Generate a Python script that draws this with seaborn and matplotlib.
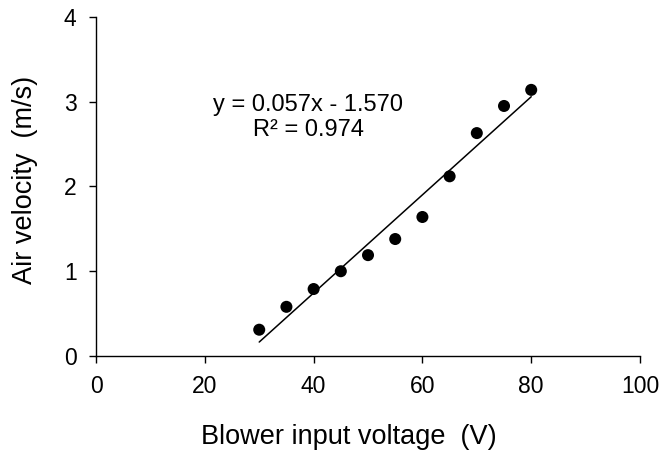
import numpy as np
import pandas as pd
import matplotlib
matplotlib.use("Agg")
import matplotlib.pyplot as plt
import seaborn as sns

# data
voltage = [30, 35, 40, 45, 50, 55, 60, 65, 70, 75, 80]
velocity = [0.31, 0.58, 0.79, 1.00, 1.19, 1.38, 1.64, 2.12, 2.63, 2.95, 3.14]
eq_text = "y = 0.057x - 1.570"
r2_text = "R² = 0.974"

df = pd.DataFrame({"voltage": voltage, "velocity": velocity})

sns.set_style("ticks")
plt.rcParams["font.family"] = ["Liberation Sans", "DejaVu Sans"]
plt.rcParams["text.color"] = "black"
plt.rcParams["axes.labelcolor"] = "black"
plt.rcParams["xtick.color"] = "black"
plt.rcParams["ytick.color"] = "black"

fig = plt.figure(figsize=(6.6, 4.54), dpi=100)
ax = fig.add_axes([0.1455, 0.2159, 0.8242, 0.7467])

sns.regplot(data=df, x="voltage", y="velocity", ax=ax, ci=None,
            scatter_kws={"s": 75, "color": "black", "edgecolor": "none", "alpha": 1},
            line_kws={"color": "black", "lw": 1.1})

ax.set_xlim(0, 100)
ax.set_ylim(0, 4)
ax.set_xticks(np.arange(0, 101, 20))
ax.set_yticks(np.arange(0, 5, 1))
ax.tick_params(axis="x", labelsize=16.5, length=5, width=1, direction="out", pad=9)
ax.tick_params(axis="y", labelsize=16.5, length=5, width=1, direction="out", pad=9)
for side in ["left", "bottom"]:
    ax.spines[side].set_color("black")
    ax.spines[side].set_linewidth(1)
sns.despine(ax=ax)

ax.set_xlabel("Blower input voltage  (V)", fontsize=19.5, va="center")
ax.set_ylabel("Air velocity  (m/s)", fontsize=19.5, va="center")
ax.xaxis.set_label_coords(0.465, -0.24)
ax.yaxis.set_label_coords(-0.13, 0.52)

ax.text(39, 2.96, eq_text, fontsize=17, ha="center", va="center")
ax.text(39, 2.665, r2_text, fontsize=17, ha="center", va="center")

fig.savefig("out.png", dpi=100)
